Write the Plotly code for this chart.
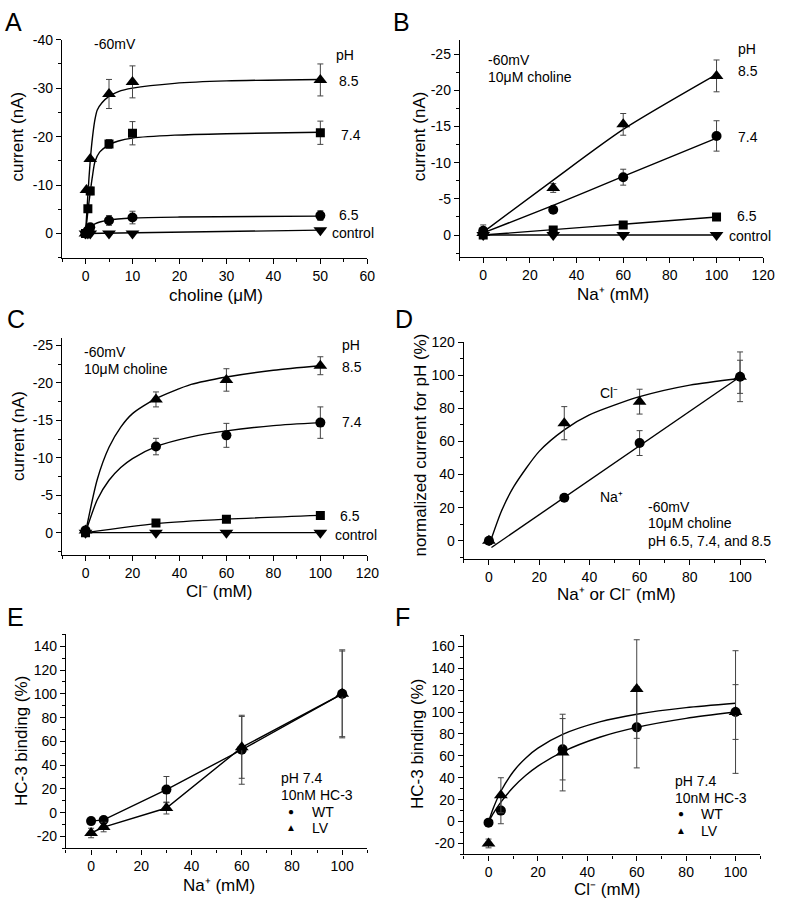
import plotly.graph_objects as go

W, H = 788, 900
FONT = "Arial, Liberation Sans, sans-serif"

# ---------------- Panel A (choline) ----------------
A_x_85 = [0, 0.2, 1, 5, 10, 50]
A_y_85 = [0, -9.0, -15.4, -28.8, -31.3, -31.7]
A_e_85 = [0, 0, 0, 3.0, 3.3, 3.3]
A_x_74 = [0, 0.5, 1, 5, 10, 50]
A_y_74 = [0, -5.1, -8.8, -18.5, -20.7, -20.8]
A_e_74 = [0, 0, 0.8, 0.9, 2.4, 2.4]
A_x_65 = [0, 0.5, 1, 5, 10, 50]
A_y_65 = [0, -0.6, -1.3, -2.7, -3.3, -3.7]
A_e_65 = [0, 0, 0, 1.0, 1.3, 1.0]
A_x_ct = [0, 0.5, 1, 5, 10, 50]
A_y_ct = [0, 0, 0, 0, 0, -0.7]
# fitted curves
A_fx_85 = [0, 0.5, 1, 1.5, 2, 2.5, 3.5, 5, 7, 10, 19, 30, 50]
A_fy_85 = [0, -8, -15, -20, -23.5, -25.5, -27, -28.3, -29.3, -30, -31, -31.5, -31.8]
A_fx_74 = [0, 0.5, 1, 1.5, 2, 3, 5, 7, 10, 19, 30, 50]
A_fy_74 = [0, -4.5, -8.5, -12, -14.8, -16.8, -18.3, -19.1, -19.7, -20.3, -20.6, -20.9]
A_fx_65 = [0, 1, 2, 5, 10, 20, 50]
A_fy_65 = [0, -1.3, -2, -2.8, -3.2, -3.4, -3.6]
A_fx_ct = [0, 50]
A_fy_ct = [0, -0.7]

# ---------------- Panel B (Na+) ----------------
B_x = [0, 30, 60, 100]
B_y_85 = [-0.3, -6.5, -15.3, -22.0]
B_e_85 = [0, 0.6, 1.5, 2.2]
B_y_74 = [-0.6, -3.5, -8.0, -13.7]
B_e_74 = [0.8, 0, 1.1, 2.1]
B_y_65 = [0, -0.7, -1.4, -2.5]
B_y_ct = [0, 0, 0, 0]
B_fx = [0, 30, 60, 100]
B_fy_85 = [-0.4, -7.6, -14.6, -22.2]
B_fy_74 = [-0.3, -4.1, -8.1, -13.4]
B_fy_65 = [0, -0.75, -1.5, -2.5]
B_fy_ct = [0, 0, 0, 0]

# ---------------- Panel C (Cl-) ----------------
C_x = [0, 30, 60, 100]
C_y_85 = [-0.3, -17.8, -20.4, -22.3]
C_e_85 = [0, 1.0, 1.5, 1.2]
C_y_74 = [-0.3, -11.5, -13.0, -14.7]
C_e_74 = [0, 1.1, 1.6, 2.1]
C_y_65 = [0, -1.3, -1.8, -2.3]
C_e_65 = [0, 0, 0.4, 0]
C_y_ct = [0, 0, 0, 0]
C_fx = [0, 5, 10, 15, 20, 30, 45, 60, 80, 100]
C_fy_85 = [0, -7.1, -11.4, -14.1, -15.9, -17.9, -19.8, -20.8, -21.7, -22.3]
C_fy_74 = [0, -4.4, -7.0, -8.7, -9.9, -11.5, -12.8, -13.6, -14.3, -14.7]
C_fx_65 = [0, 30, 60, 100]
C_fy_65 = [0, -1.2, -1.8, -2.3]
C_fy_ct = [0, 0, 0, 0]

# ---------------- Panel D (normalized) ----------------
D_x = [0, 30, 60, 100]
D_y_cl = [0, 71, 84, 99]
D_e_cl = [0, 10, 7.5, 15]
D_y_na = [0, 26, 59, 99]
D_e_na = [0, 0, 7.5, 10]
D_fx_cl = [0, 5, 10, 20, 30, 40, 60, 80, 100]
D_fy_cl = [-3, 18, 33, 54, 67, 76, 87, 94, 98]
D_fx_na = [1, 100]
D_fy_na = [-4, 99]

# ---------------- Panel E (HC-3 binding vs Na+) ----------------
E_x = [0, 5, 30, 60, 100]
E_y_wt = [-7, -6, 19.5, 53, 100]
E_e_wt = [0, 0, 11, 29, 37]
E_y_lv = [-17, -12, 4, 55, 100]
E_e_lv = [4, 4, 5, 26, 36]

# ---------------- Panel F (HC-3 binding vs Cl-) ----------------
F_x = [0, 5, 30, 60, 100]
F_y_wt = [-1, 10, 66, 86, 100]
F_e_wt = [0, 12, 28, 37, 25]
F_y_lv = [-20, 24, 63, 121, 100]
F_e_lv = [4, 16, 35, 45, 56]
F_fx = [0, 2, 5, 10, 15, 20, 30, 45, 60, 80, 100]
F_fy_up = [0, 12.7, 27.7, 45.5, 57.9, 67, 79.6, 91, 98, 104, 108]
F_fy_lo = [0, 7.7, 17.7, 31.3, 42, 50.6, 63.7, 77, 86, 94.2, 100]

# ---------------- tick labels ----------------
A_yt = [0, -10, -20, -30, -40]
A_ytl = ["0", "-10", "-20", "-30", "-40"]
BC_yt = [0, -5, -10, -15, -20, -25]
BC_ytl = ["0", "-5", "-10", "-15", "-20", "-25"]
D_yt = [0, 20, 40, 60, 80, 100, 120]
D_ytl = ["0", "20", "40", "60", "80", "100", "120"]
E_yt = [-20, 0, 20, 40, 60, 80, 100, 120, 140]
E_ytl = ["-20", "0", "20", "40", "60", "80", "100", "120", "140"]
F_yt = [-20, 0, 20, 40, 60, 80, 100, 120, 140, 160]
F_ytl = ["-20", "0", "20", "40", "60", "80", "100", "120", "140", "160"]

# ---------------- layout geometry (pixels) ----------------
panels = {
    1: dict(px=(63, 373), py=(32, 252), xr=[-5, 60], xd=10, xm=5, yr=[5, -40], yt=A_yt, ytl=A_ytl, ym=5),
    2: dict(px=(467, 775), py=(32, 251), xr=[-10, 120], xd=20, xm=10, yr=[3, -27], yt=BC_yt, ytl=BC_ytl, ym=2.5),
    3: dict(px=(63, 373), py=(333, 552), xr=[-10, 120], xd=20, xm=10, yr=[3, -26], yt=BC_yt, ytl=BC_ytl, ym=2.5),
    4: dict(px=(471, 777), py=(337, 556), xr=[-10, 110], xd=20, xm=10, yr=[-11, 120], yt=D_yt, ytl=D_ytl, ym=10),
    5: dict(px=(67, 373), py=(632, 848), xr=[-10, 110], xd=20, xm=10, yr=[-30, 150], yt=E_yt, ytl=E_ytl, ym=10),
    6: dict(px=(471, 772), py=(633, 854), xr=[-10, 110], xd=20, xm=10, yr=[-30, 170], yt=F_yt, ytl=F_ytl, ym=10),
}

fig = go.Figure()
EB = dict(color="#444", thickness=1, width=3)
LINE = dict(color="black", width=1.4)


def ax(i):
    return ("x" if i == 1 else f"x{i}"), ("y" if i == 1 else f"y{i}")


def pts(i, x, y, sym, size, err=None):
    xa, ya = ax(i)
    kw = {}
    if err is not None:
        kw["error_y"] = dict(type="data", array=err, visible=True, **EB)
    fig.add_trace(go.Scatter(x=x, y=y, mode="markers", xaxis=xa, yaxis=ya,
                             marker=dict(symbol=sym, size=size, color="black"),
                             showlegend=False, **kw))


def curve(i, x, y, spline=True):
    xa, ya = ax(i)
    fig.add_trace(go.Scatter(x=x, y=y, mode="lines", xaxis=xa, yaxis=ya,
                             line=dict(LINE, shape="spline" if spline else "linear", smoothing=0.7),
                             showlegend=False))


# Panel A
curve(1, A_fx_85, A_fy_85); curve(1, A_fx_74, A_fy_74); curve(1, A_fx_65, A_fy_65)
curve(1, A_fx_ct, A_fy_ct, spline=False)
pts(1, A_x_85, A_y_85, "triangle-up", 12, A_e_85)
pts(1, A_x_74, A_y_74, "square", 9, A_e_74)
pts(1, A_x_65, A_y_65, "circle", 10, A_e_65)
pts(1, A_x_ct, A_y_ct, "triangle-down", 12)

# Panel B
curve(2, B_fx, B_fy_85); curve(2, B_fx, B_fy_74); curve(2, B_fx, B_fy_65)
curve(2, B_fx, B_fy_ct, spline=False)
pts(2, B_x, B_y_85, "triangle-up", 12, B_e_85)
pts(2, B_x, B_y_74, "circle", 10, B_e_74)
pts(2, B_x, B_y_65, "square", 9)
pts(2, B_x, B_y_ct, "triangle-down", 12)

# Panel C
curve(3, C_fx, C_fy_85); curve(3, C_fx, C_fy_74); curve(3, C_fx_65, C_fy_65)
curve(3, C_x, C_fy_ct, spline=False)
pts(3, C_x, C_y_85, "triangle-up", 12, C_e_85)
pts(3, C_x, C_y_74, "circle", 10, C_e_74)
pts(3, C_x, C_y_65, "square", 9, C_e_65)
pts(3, C_x, C_y_ct, "triangle-down", 12)

# Panel D
curve(4, D_fx_cl, D_fy_cl); curve(4, D_fx_na, D_fy_na, spline=False)
pts(4, D_x, D_y_cl, "triangle-up", 12, D_e_cl)
pts(4, D_x, D_y_na, "circle", 10, D_e_na)

# Panel E (points joined by straight lines)
xa, ya = ax(5)
fig.add_trace(go.Scatter(x=E_x, y=E_y_wt, mode="lines+markers", xaxis=xa, yaxis=ya, line=LINE,
                         marker=dict(symbol="circle", size=10, color="black"),
                         error_y=dict(type="data", array=E_e_wt, **EB), showlegend=False))
fig.add_trace(go.Scatter(x=E_x, y=E_y_lv, mode="lines+markers", xaxis=xa, yaxis=ya, line=LINE,
                         marker=dict(symbol="triangle-up", size=12, color="black"),
                         error_y=dict(type="data", array=E_e_lv, **EB), showlegend=False))

# Panel F
curve(6, F_fx, F_fy_up); curve(6, F_fx, F_fy_lo)
pts(6, F_x, F_y_wt, "circle", 10, F_e_wt)
pts(6, F_x, F_y_lv, "triangle-up", 12, F_e_lv)

layout = dict(width=W, height=H, margin=dict(l=0, r=0, t=0, b=0),
              paper_bgcolor="white", plot_bgcolor="white",
              font=dict(family=FONT, size=14, color="black"), showlegend=False)

for i, p in panels.items():
    xk = "xaxis" if i == 1 else f"xaxis{i}"
    yk = "yaxis" if i == 1 else f"yaxis{i}"
    xa, ya = ax(i)
    common = dict(showline=True, linecolor="black", linewidth=1.3, ticks="outside",
                  ticklen=5, tickwidth=1, tickcolor="black", showgrid=False, zeroline=False,
                  tickfont=dict(family=FONT, size=14, color="black"), mirror=False)
    layout[xk] = dict(common, domain=[p["px"][0] / W, p["px"][1] / W], anchor=ya,
                      range=p["xr"], tickmode="linear", tick0=0, dtick=p["xd"],
                      minor=dict(ticks="outside", ticklen=3, tickmode="linear", tick0=0,
                                 dtick=p["xm"], tickcolor="black"))
    layout[yk] = dict(common, domain=[1 - p["py"][1] / H, 1 - p["py"][0] / H], anchor=xa,
                      range=p["yr"], tickmode="array", tickvals=p["yt"], ticktext=p["ytl"],
                      minor=dict(ticks="outside", ticklen=3, tickmode="linear", tick0=0,
                                 dtick=p["ym"], tickcolor="black"))
fig.update_layout(**layout)

ann = []


def txt(t, px, py, size=14, xanchor="left", angle=0):
    ann.append(dict(text=t, x=px / W, y=1 - py / H, xref="paper", yref="paper",
                    xanchor=xanchor, yanchor="middle", showarrow=False, textangle=angle,
                    font=dict(family=FONT, size=size, color="black")))


# panel letters
for L, px, py in [("A", 3, 14), ("B", 397, 14), ("C", 5, 314), ("D", 399, 314), ("E", 5, 614), ("F", 399, 614)]:
    txt(L, px, py, size=25)

# Panel A texts
txt("-60mV", 93, 36); txt("pH", 339, 47); txt("8.5", 342, 74); txt("7.4", 344, 128)
txt("6.5", 342, 209); txt("control", 335, 227)
txt("choline (μM)", 219, 290, size=17, xanchor="center")
txt("current (nA)", 18, 130, size=17, xanchor="center", angle=-90)

# Panel B texts
txt("-60mV", 494, 52); txt("10μM choline", 494, 70)
txt("pH", 747, 41); txt("8.5", 747, 64); txt("7.4", 747, 130); txt("6.5", 746, 210)
txt("control", 785, 230, xanchor="right")
txt("Na⁺ (mM)", 622, 289, size=17, xanchor="center")
txt("current (nA)", 426, 130, size=17, xanchor="center", angle=-90)

# Panel C texts
txt("-60mV", 83, 347); txt("10μM choline", 83, 364)
txt("pH", 345, 340); txt("8.5", 345, 362); txt("7.4", 345, 418); txt("6.5", 343, 513); txt("control", 338, 532)
txt("Cl⁻ (mM)", 222, 589, size=17, xanchor="center")
txt("current (nA)", 18, 432, size=17, xanchor="center", angle=-90)

# Panel D texts
txt("Cl⁻", 607, 388); txt("Na⁺", 607, 493)
txt("-60mV", 656, 503); txt("10μM choline", 656, 520); txt("pH 6.5, 7.4, and 8.5", 656, 538)
txt("Na⁺ or Cl⁻ (mM)", 626, 592, size=17, xanchor="center")
txt("normalized current for pH (%)", 427, 441, size=17, xanchor="center", angle=-90)

# Panel E texts
txt("pH 7.4", 283, 777); txt("10nM HC-3", 283, 794)
txt("●", 295, 811, size=10, xanchor="center"); txt("WT", 315, 811)
txt("▲", 295, 827, size=10, xanchor="center"); txt("LV", 315, 827)
txt("Na⁺ (mM)", 222, 885, size=17, xanchor="center")
txt("HC-3 binding (%)", 22, 740, size=17, xanchor="center", angle=-90)

# Panel F texts
txt("pH 7.4", 683, 780); txt("10nM HC-3", 683, 797)
txt("●", 692, 813, size=10, xanchor="center"); txt("WT", 710, 813)
txt("▲", 692, 830, size=10, xanchor="center"); txt("LV", 710, 830)
txt("Cl⁻ (mM)", 616, 889, size=17, xanchor="center")
txt("HC-3 binding (%)", 424, 743, size=17, xanchor="center", angle=-90)

fig.update_layout(annotations=ann)
fig.write_html("out.html", config={"displayModeBar": False},
               post_script="document.body.style.margin='0';document.body.style.overflow='hidden';")
